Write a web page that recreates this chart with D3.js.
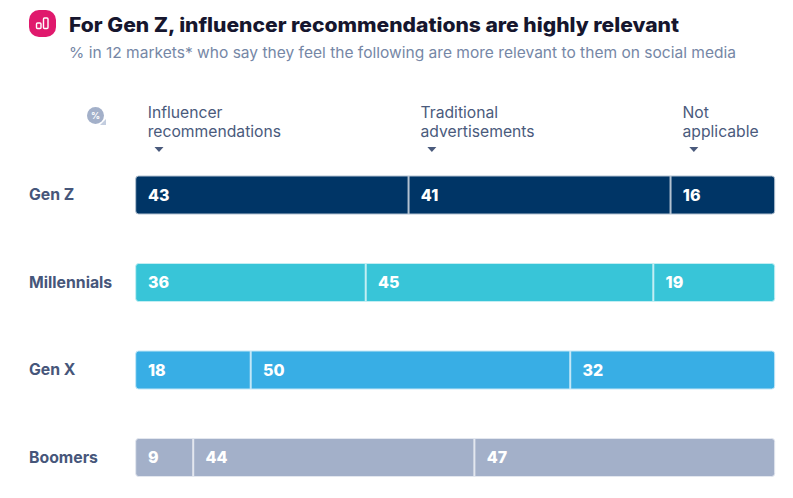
<!DOCTYPE html>
<html><head><meta charset="utf-8">
<script src="https://cdn.jsdelivr.net/npm/d3@7"></script>
<style>html,body{margin:0;background:#fff}svg{display:block}text{font-family:Inter,"Noto Sans",sans-serif}</style>
</head><body><script>
const generations = ["Gen Z","Millennials","Gen X","Boomers"];
const influencer = [42.7,36,18,9];
const traditional = [41,45,50,44];
const notApplicable = [16.3,19,32,47];
const colours = ["#003566","#38c5d8","#38aee5","#a3b0c9"];
const columnLabels = [["Influencer","recommendations"],["Traditional","advertisements"],["Not","applicable"]];
const columnStarts = [0,42.7,83.7];
const titleText = "For Gen Z, influencer recommendations are highly relevant";
const subtitleText = "% in 12 markets* who say they feel the following are more relevant to them on social media";

const svg = d3.select("body").append("svg").attr("width",793).attr("height",498);
const x = d3.scaleLinear().domain([0,100]).range([135.7,774.7]);
const y = d3.scalePoint().domain(generations).range([195,457.5]);
const fmt = d3.format(".0f");
const barH = 38;

// badge
const badge = svg.append("g");
badge.append("rect").attr("x",29).attr("y",10).attr("width",27).attr("height",27).attr("rx",10).attr("fill","#e0196d");
badge.append("rect").attr("x",36.5).attr("y",23).attr("width",4.5).attr("height",5.5).attr("rx",1).attr("fill","none").attr("stroke","#fff").attr("stroke-width",1.4);
badge.append("rect").attr("x",43.5).attr("y",18).attr("width",4.5).attr("height",10.5).attr("rx",1).attr("fill","none").attr("stroke","#fff").attr("stroke-width",1.4);

svg.append("text").attr("x",69).attr("y",32).attr("font-size",20).attr("font-weight",800).attr("fill","#16162e").attr("textLength",610).attr("lengthAdjust","spacingAndGlyphs").text(titleText);
svg.append("text").attr("x",69).attr("y",58).attr("font-size",15).attr("fill","#7687a6").attr("textLength",667).attr("lengthAdjust","spacingAndGlyphs").text(subtitleText);

// percent icon
svg.append("path").attr("d","M100 125 L106 125 L106 119 Z").attr("fill","#c3cddf");
svg.append("circle").attr("cx",95.5).attr("cy",115.5).attr("r",8.5).attr("fill","#a3b0c9");
svg.append("text").attr("x",95.5).attr("y",119).attr("text-anchor","middle").attr("font-size",9).attr("font-weight",700).attr("fill","#fff").text("%");

// column headers
columnLabels.forEach((lines,i)=>{
  const lx = x(columnStarts[i])+12;
  lines.forEach((t,j)=>svg.append("text").attr("x",lx).attr("y",118+j*19).attr("font-size",15.7).attr("fill","#4a5a7c").text(t));
  const ax = lx+11.3;
  svg.append("path").attr("d",`M${ax-4.5} 147 L${ax+4.5} 147 L${ax} 152 Z`).attr("fill","#4a5a7c");
});

// rows
const rows = svg.selectAll("g.row").data(generations).join("g").attr("class","row");
rows.append("text").attr("x",29).attr("y",d=>y(d)+5).attr("font-size",15.8).attr("font-weight",700).attr("fill","#46567a").text(d=>d);
rows.each(function(g,i){
  const vals=[influencer[i],traditional[i],notApplicable[i]];
  const stack=d3.cumsum(vals);
  const row=d3.select(this);
  const top=y(g)-barH/2;
  const edge=d3.interpolateRgb(colours[i],"#fff")(0.7);
  row.append("rect").attr("x",x(0)).attr("y",top).attr("width",x(100)-x(0)).attr("height",barH).attr("rx",3).attr("fill",colours[i]).attr("stroke",edge).attr("stroke-width",1);
  stack.slice(0,2).forEach(s=>row.append("line").attr("x1",x(s)).attr("x2",x(s)).attr("y1",top).attr("y2",top+barH).attr("stroke",edge).attr("stroke-width",2));
  vals.forEach((v,k)=>row.append("text").attr("x",x(k?stack[k-1]:0)+12.3).attr("y",y(g)+5.5).attr("font-size",16).attr("font-weight",800).attr("fill","#fff").text(fmt(v)));
});
</script></body></html>
